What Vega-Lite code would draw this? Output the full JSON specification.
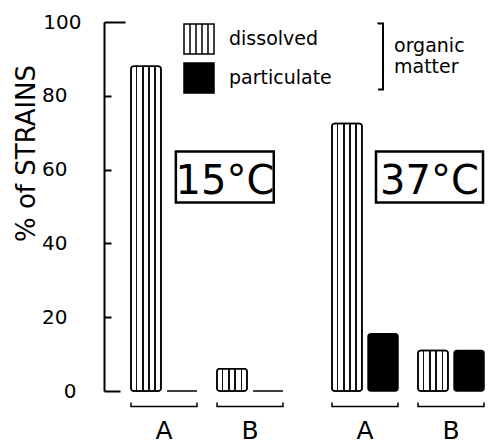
{
  "$schema": "https://vega.github.io/schema/vega-lite/v6.json",
  "background": "white",
  "padding": {"left": 12, "top": 12, "right": 5, "bottom": 3},
  "config": {
    "font": "DejaVu Sans",
    "view": {"stroke": null},
    "text": {"color": "black"}
  },
  "data": {
    "values": [
      {"temp": "15°C", "strain": "A", "type": "dissolved", "pct": 88},
      {"temp": "15°C", "strain": "A", "type": "particulate", "pct": 0},
      {"temp": "15°C", "strain": "B", "type": "dissolved", "pct": 6},
      {"temp": "15°C", "strain": "B", "type": "particulate", "pct": 0},
      {"temp": "37°C", "strain": "A", "type": "dissolved", "pct": 72.5},
      {"temp": "37°C", "strain": "A", "type": "particulate", "pct": 15.5},
      {"temp": "37°C", "strain": "B", "type": "dissolved", "pct": 11},
      {"temp": "37°C", "strain": "B", "type": "particulate", "pct": 11}
    ]
  },
  "spacing": 49,
  "bounds": "flush",
  "resolve": {"scale": {"fill": "shared", "y": "independent", "x": "independent", "xOffset": "independent"}},
  "hconcat": [
    {
      "width": 179,
      "height": 369,
      "transform": [{"filter": "datum.temp == '15°C'"}],
      "layer": [
        {
          "mark": {"type": "bar", "stroke": "black", "strokeWidth": 1.5, "cornerRadius": 3},
          "encoding": {
            "x": {
              "field": "strain", "type": "nominal",
              "scale": {"paddingInner": 0.233, "paddingOuter": 0.157, "align": 1},
              "axis": {"title": null, "domain": false, "ticks": false, "labelFontSize": 25, "labelPadding": 27, "labelAngle": 0, "labelColor": "black"}
            },
            "xOffset": {"field": "type", "scale": {"paddingInner": 0.17, "paddingOuter": 0}},
            "y": {
              "field": "pct", "type": "quantitative",
              "scale": {"domain": [0, 100], "nice": false},
              "axis": {
                "values": [0, 10, 20, 30, 40, 50, 60, 70, 80, 90, 100],
                "labelExpr": "datum.value % 20 === 0 ? datum.label : ''",
                "tickSize": {"condition": [{"test": "datum.value === 100", "value": -21}, {"test": "datum.value === 0", "value": -16}], "value": -7},
                "tickWidth": 2, "tickColor": "black",
                "domainColor": "black", "domainWidth": 2,
                "grid": false,
                "labelFontSize": 20, "labelColor": "black", "labelPadding": 44,
                "title": "% of STRAINS", "titleFontSize": 26, "titleFontWeight": "normal", "titleColor": "black",
                "titleX": -70, "titleY": 131, "titleBaseline": "alphabetic", "titleAlign": "center", "titleAngle": -90
              }
            },
            "fill": {
              "field": "type", "type": "nominal",
              "scale": {"domain": ["dissolved", "particulate"], "range": ["white", "black"]},
              "legend": {
                "orient": "none", "legendX": 79, "legendY": 1, "title": null,
                "symbolType": "M-1,-1H1V1H-1Z M-0.6,-1V1 M-0.2,-1V1 M0.2,-1V1 M0.6,-1V1",
                "symbolSize": 900, "symbolStrokeColor": "black", "symbolStrokeWidth": 1.5,
                "labelFontSize": 19, "labelColor": "black", "labelOffset": 14, "rowPadding": 3, "padding": 0,
                "encode": {
                  "symbols": {
                    "update": {
                      "stroke": {"value": "black"},
                      "strokeWidth": {"value": 1.5}
                    }
                  }
                }
              }
            }
          }
        },
        {
          "transform": [{"filter": "datum.type == 'dissolved'"}],
          "mark": {
            "type": "bar", "stroke": "black", "strokeWidth": 1.5, "cornerRadius": 3,
            "fill": {"gradient": "linear", "x1": 0, "y1": 0, "x2": 1, "y2": 0, "stops": [
              {"offset": 0, "color": "#ffffff"}, {"offset": 0.175, "color": "#ffffff"}, {"offset": 0.175, "color": "#111111"}, {"offset": 0.215, "color": "#111111"}, {"offset": 0.215, "color": "#ffffff"},
              {"offset": 0.38, "color": "#ffffff"}, {"offset": 0.38, "color": "#111111"}, {"offset": 0.42, "color": "#111111"}, {"offset": 0.42, "color": "#ffffff"},
              {"offset": 0.58, "color": "#ffffff"}, {"offset": 0.58, "color": "#111111"}, {"offset": 0.62, "color": "#111111"}, {"offset": 0.62, "color": "#ffffff"},
              {"offset": 0.785, "color": "#ffffff"}, {"offset": 0.785, "color": "#111111"}, {"offset": 0.825, "color": "#111111"}, {"offset": 0.825, "color": "#ffffff"}, {"offset": 1, "color": "#ffffff"}
            ]}
          },
          "encoding": {
            "x": {"field": "strain", "type": "nominal"},
            "xOffset": {"field": "type", "scale": {"domain": ["dissolved", "particulate"]}},
            "y": {"field": "pct", "type": "quantitative"}
          }
        },
        {
          "transform": [{"filter": "datum.type == 'dissolved'"}],
          "mark": {"type": "rect", "fill": null, "stroke": "black", "strokeWidth": 1.5, "strokeDash": [74.1, 66], "strokeDashOffset": 74.1},
          "encoding": {
            "x": {"field": "strain", "type": "nominal"},
            "y": {"datum": -3.1},
            "y2": {"datum": -4.2}
          }
        },
        {
          "transform": [{"filter": "datum.type == 'dissolved' && datum.strain == 'A'"}],
          "mark": {"type": "rect", "fill": "white", "stroke": "black", "strokeWidth": 2.5},
          "encoding": {
            "x": {"datum": "A", "bandPosition": 0.68},
            "x2": {"datum": "B", "bandPosition": 0.86},
            "y": {"datum": 64.9},
            "y2": {"datum": 51.1}
          }
        },
        {
          "transform": [{"filter": "datum.type == 'dissolved' && datum.strain == 'A'"}],
          "mark": {"type": "text", "fontSize": 40, "align": "center", "baseline": "alphabetic"},
          "encoding": {
            "x": {"datum": "B", "bandPosition": 0.12},
            "y": {"datum": 53.5},
            "text": {"field": "temp"}
          }
        }
      ]
    },
    {
      "width": 152,
      "height": 369,
      "transform": [{"filter": "datum.temp == '37°C'"}],
      "layer": [
        {
          "mark": {"type": "bar", "stroke": "black", "strokeWidth": 1.5, "cornerRadius": 3},
          "encoding": {
            "x": {
              "field": "strain", "type": "nominal",
              "scale": {"paddingInner": 0.233, "paddingOuter": 0},
              "axis": {"title": null, "domain": false, "ticks": false, "labelFontSize": 25, "labelPadding": 27, "labelAngle": 0, "labelColor": "black"}
            },
            "xOffset": {"field": "type", "scale": {"paddingInner": 0.17, "paddingOuter": 0}},
            "y": {"field": "pct", "type": "quantitative", "scale": {"domain": [0, 100], "nice": false}, "axis": null},
            "fill": {"field": "type", "type": "nominal", "legend": null}
          }
        },
        {
          "transform": [{"filter": "datum.type == 'dissolved'"}],
          "mark": {
            "type": "bar", "stroke": "black", "strokeWidth": 1.5, "cornerRadius": 3,
            "fill": {"gradient": "linear", "x1": 0, "y1": 0, "x2": 1, "y2": 0, "stops": [
              {"offset": 0, "color": "#ffffff"}, {"offset": 0.175, "color": "#ffffff"}, {"offset": 0.175, "color": "#111111"}, {"offset": 0.215, "color": "#111111"}, {"offset": 0.215, "color": "#ffffff"},
              {"offset": 0.38, "color": "#ffffff"}, {"offset": 0.38, "color": "#111111"}, {"offset": 0.42, "color": "#111111"}, {"offset": 0.42, "color": "#ffffff"},
              {"offset": 0.58, "color": "#ffffff"}, {"offset": 0.58, "color": "#111111"}, {"offset": 0.62, "color": "#111111"}, {"offset": 0.62, "color": "#ffffff"},
              {"offset": 0.785, "color": "#ffffff"}, {"offset": 0.785, "color": "#111111"}, {"offset": 0.825, "color": "#111111"}, {"offset": 0.825, "color": "#ffffff"}, {"offset": 1, "color": "#ffffff"}
            ]}
          },
          "encoding": {
            "x": {"field": "strain", "type": "nominal"},
            "xOffset": {"field": "type", "scale": {"domain": ["dissolved", "particulate"]}},
            "y": {"field": "pct", "type": "quantitative"}
          }
        },
        {
          "transform": [{"filter": "datum.type == 'dissolved'"}],
          "mark": {"type": "rect", "fill": null, "stroke": "black", "strokeWidth": 1.5, "strokeDash": [74.1, 66], "strokeDashOffset": 74.1},
          "encoding": {
            "x": {"field": "strain", "type": "nominal"},
            "y": {"datum": -3.1},
            "y2": {"datum": -4.2}
          }
        },
        {
          "transform": [{"filter": "datum.type == 'dissolved' && datum.strain == 'A'"}],
          "mark": {"type": "rect", "fill": "white", "stroke": "black", "strokeWidth": 2.5},
          "encoding": {
            "x": {"datum": "A", "bandPosition": 0.667},
            "x2": {"datum": "B", "bandPosition": 0.985},
            "y": {"datum": 64.9},
            "y2": {"datum": 51.1}
          }
        },
        {
          "transform": [{"filter": "datum.type == 'dissolved' && datum.strain == 'A'"}],
          "mark": {"type": "text", "fontSize": 40, "align": "center", "baseline": "alphabetic"},
          "encoding": {
            "x": {"datum": "B", "bandPosition": 0.174},
            "y": {"datum": 53.5},
            "text": {"field": "temp"}
          }
        },
        {
          "transform": [{"filter": "datum.type == 'dissolved' && datum.strain == 'A'"}],
          "mark": {"type": "rect", "fill": null, "stroke": "black", "strokeWidth": 2, "strokeDash": [76, 66]},
          "encoding": {
            "x": {"datum": "A", "bandPosition": 0.697},
            "x2": {"datum": "A", "bandPosition": 0.773},
            "y": {"datum": 99.6},
            "y2": {"datum": 81.7}
          }
        },
        {
          "transform": [{"filter": "datum.type == 'dissolved' && datum.strain == 'A'"}],
          "mark": {"type": "text", "fontSize": 19, "align": "left", "baseline": "alphabetic", "lineHeight": 21, "text": ["organic", "matter"]},
          "encoding": {
            "x": {"datum": "A", "bandPosition": 0.94},
            "y": {"datum": 92.0}
          }
        }
      ]
    }
  ]
}
